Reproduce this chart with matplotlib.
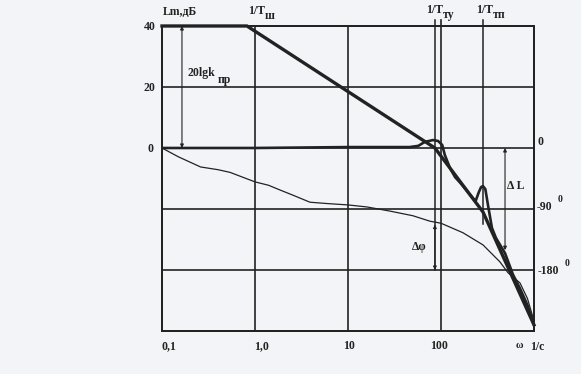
import matplotlib
matplotlib.use('Agg')
from matplotlib import pyplot as plt

# asymptotic LAFC (thick straight segments)
w_asym = [0.1, 0.82, 86, 283, 1000]
L_asym = [40, 40, 0, -21, -58]

# exact magnitude curve with resonance humps
w_mag = [0.1, 1.0, 10, 46, 57, 67, 82, 93, 103, 110, 125, 142, 160, 205, 235, 255, 270, 283,
         300, 320, 353, 390, 488, 594, 706, 850, 1000]
L_mag = [0, 0, 0.3, 0.3, 0.7, 2.0, 2.6, 2.3, 1.0, -2.3, -6.6, -9.6, -11.3, -15.3, -17.5, -14.5,
         -12.8, -12.5, -13.5, -18.7, -26.2, -29.5, -34.5, -41.5, -46, -51.5, -58]

# phase curve, degrees
w_ph = [0.1, 0.15, 0.26, 0.4, 0.54, 1.0, 1.4, 1.86, 2.6, 3.9, 6, 10, 16, 28, 50, 76, 100, 172,
        283, 430, 525, 706, 850, 1000]
ph = [0, -13, -28, -32, -36, -50, -55, -62, -70, -80, -82, -84, -87, -93, -100, -108, -111,
      -125, -143, -168, -184, -199, -222, -255]

x_labels = ['0,1', '1,0', '10', '100']
y_labels = ['40', '20', '0']
ph_labels = ['0', '-90', '-180']

w_dL, L_dL = 488, -33.5
w_ty, w_tp = 86, 283
ph_dphi = -113

ink = '#222222'
bg = '#f3f4f8'
fnt = dict(family='Liberation Serif', weight='bold', color=ink)

fig = plt.figure(figsize=(5.81, 3.74), dpi=100, facecolor=bg)
ax = fig.add_axes([0.2788, 0.115, 0.6403, 0.8155])
ax.set_facecolor(bg)
ax.set_xscale('log')
ax.set_xlim(0.1, 1000)
ax.set_ylim(-60, 40)

ax2 = ax.twinx()
ax2.set_ylim(-270, 180)

for a in (ax, ax2):
    a.set_xticks([])
    a.set_yticks([])
    a.minorticks_off()
    for s in a.spines.values():
        s.set_color(ink)
        s.set_linewidth(1.3)

# grid
for w in [1.0, 10]:
    ax.plot([w, w], [-60, 40], color=ink, lw=1.2)
ax.plot([100, 100], [-60, 42], color=ink, lw=1.2, clip_on=False)
for L in [20, 0, -20, -40]:
    ax.plot([0.1, 1000], [L, L], color=ink, lw=1.2)

# marker lines for the break frequencies
ax.plot([w_ty, w_ty], [-40, 42], color=ink, lw=1.1, clip_on=False)
ax.plot([w_tp, w_tp], [-25, 42], color=ink, lw=1.1, clip_on=False)

# curves
ax.plot(w_asym, L_asym, color=ink, lw=2.4, solid_joinstyle='miter', clip_on=False)
ax.plot(w_mag, L_mag, color=ink, lw=1.9)
ax2.plot(w_ph, ph, color=ink, lw=0.9)

# dimension arrows
arr = dict(arrowstyle='<|-|>', color=ink, lw=0.8, mutation_scale=5, shrinkA=0, shrinkB=0)
ax.annotate('', xy=(0.164, 40), xytext=(0.164, 0), arrowprops=arr)
ax.annotate('', xy=(w_dL, 0), xytext=(w_dL, L_dL), arrowprops=arr)
ax2.annotate('', xy=(w_ty, ph_dphi), xytext=(w_ty, -180), arrowprops=arr)


def px(x, y, s, size=8.5):
    # place text by its left edge, in picture pixels
    fig.text(x / 581, 1 - y / 374, s, ha='left', va='center', size=size, **fnt)


for s, x, y in zip(y_labels, [144, 144, 147], [27, 88, 149]):
    px(x, y, s)
for s, x in zip(x_labels, [162, 254, 343, 430]):
    px(x, 346, s)
px(516, 345, 'ω', size=7.5)
px(530, 347, '1/с')

px(537, 142, ph_labels[0])
px(537, 207, ph_labels[1])
px(558, 200, '0', size=7)
px(538, 271, ph_labels[2])
px(565, 264, '0', size=7)

px(163, 12, 'Lm,дБ')
px(248, 11, '1/T')
px(265, 16, 'ш')
px(426, 10, '1/T')
px(443, 15, 'ту')
px(476, 10, '1/T')
px(493, 15, 'тп')

px(188, 73, '20lgk')
px(218, 80, 'пр')
px(507, 186, 'Δ L')
px(412, 247, 'Δφ')

fig.savefig('out.png', dpi=100, facecolor=bg)
